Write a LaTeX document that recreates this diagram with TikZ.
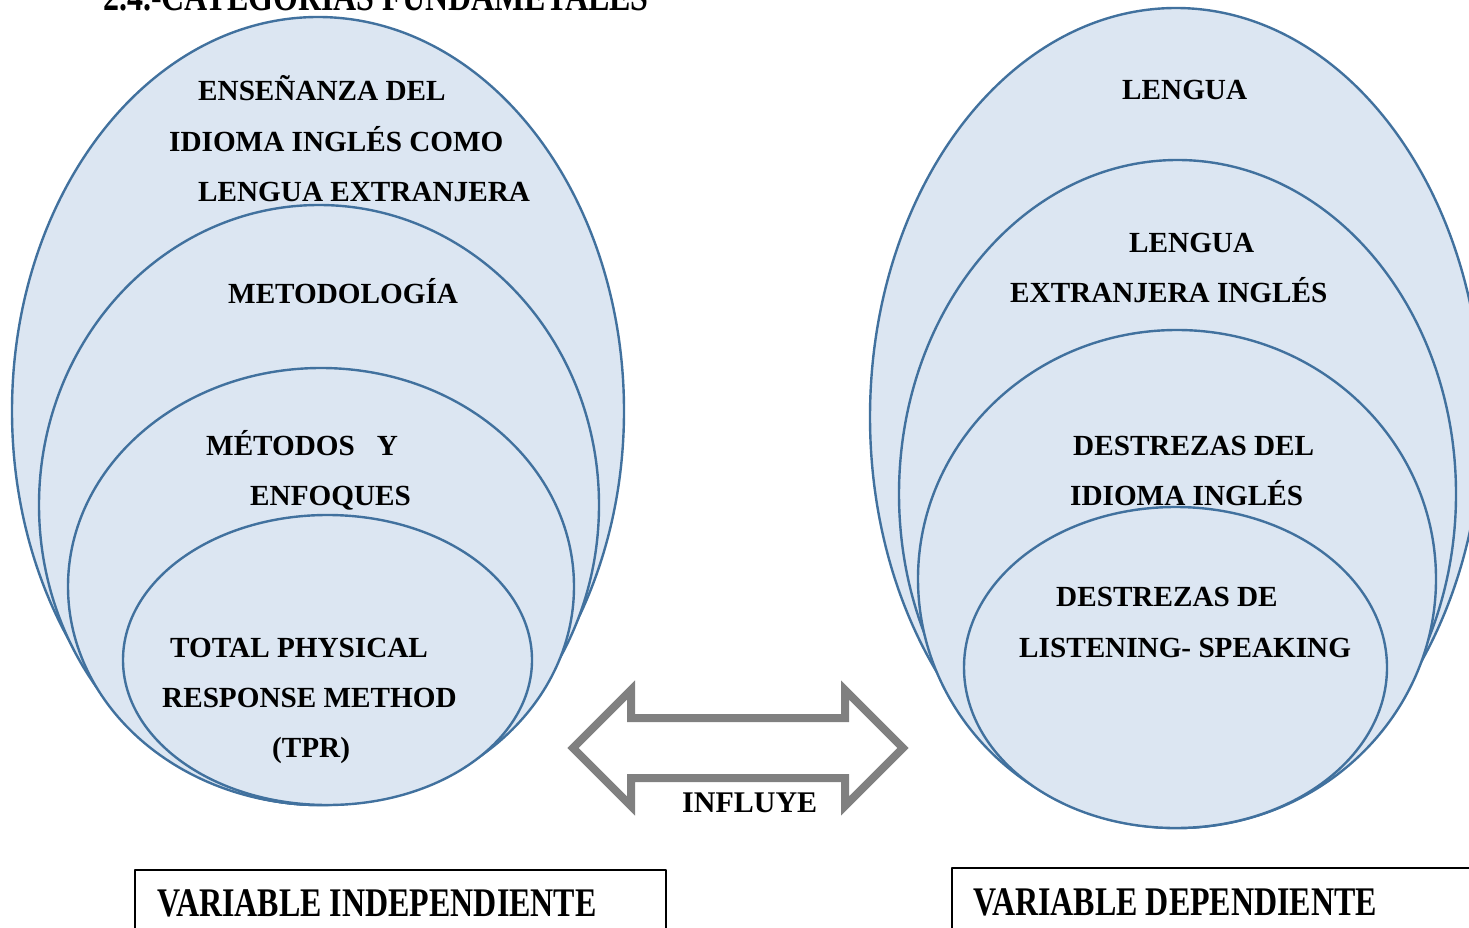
\documentclass[tikz,border=0pt]{standalone}
\usepackage{fontspec}
\setmainfont{Liberation Serif}
\usepackage{graphicx}
\definecolor{elline}{RGB}{65,113,158}
\definecolor{elfill}{RGB}{220,230,242}
\definecolor{arrgray}{RGB}{128,128,128}
\newcommand{\tall}[1]{\scalebox{1}[1.27]{#1}}
\begin{document}
\begin{tikzpicture}[x=1pt,y=-1pt,line join=round,line cap=round]
	\tikzset{cat/.style={fill=elfill,draw=elline,line width=2.4pt},
		lbl/.style={anchor=base west,inner sep=0pt,font=\fontsize{29.2}{35}\selectfont\bfseries},
		big/.style={anchor=base west,inner sep=0pt,font=\fontsize{32}{38}\selectfont\bfseries}}
	\useasboundingbox (0,0) rectangle (1469,928);
	\clip (0,0) rectangle (1469,928);
	\node[big] (titulo) at (103,11) {\tall{2.4.-CATEGORIAS FUNDAMETALES}};
	\draw[cat] (318,411) ellipse [x radius=306pt,y radius=394pt];
	\draw[cat] (319,505) ellipse [x radius=280pt,y radius=300pt];
	\draw[cat] (321,586.5) ellipse [x radius=253pt,y radius=218.5pt];
	\draw[cat] (327.5,660) ellipse [x radius=204.5pt,y radius=145pt];
	\draw[cat] (1176,417) ellipse [x radius=306pt,y radius=409pt];
	\draw[cat] (1177.5,494) ellipse [x radius=278.5pt,y radius=334pt];
	\draw[cat] (1177,579) ellipse [x radius=259pt,y radius=249pt];
	\draw[cat] (1175.5,667.5) ellipse [x radius=211.5pt,y radius=160.5pt];
	\node[lbl] (ens1) at (198,101) {ENSEÑANZA DEL};
	\node[lbl] (ens2) at (169,152) {IDIOMA INGLÉS COMO};
	\node[lbl] (ens3) at (198,202) {LENGUA EXTRANJERA};
	\node[lbl] (met) at (228,303) {METODOLOGÍA};
	\node[lbl] (mye1) at (206,455) {MÉTODOS \ \ Y};
	\node[lbl] (mye2) at (250,505) {ENFOQUES};
	\node[lbl] (tpr1) at (170,657) {TOTAL PHYSICAL};
	\node[lbl] (tpr2) at (162,707) {RESPONSE METHOD};
	\node[lbl] (tpr3) at (272,757) {(TPR)};
	\node[lbl] (len) at (1122,100) {LENGUA};
	\node[lbl] (lex1) at (1129,252) {LENGUA};
	\node[lbl] (lex2) at (1010,302) {EXTRANJERA INGLÉS};
	\node[lbl] (des1) at (1073,455) {DESTREZAS DEL};
	\node[lbl] (des2) at (1070,505) {IDIOMA INGLÉS};
	\node[lbl] (ls1) at (1056,606) {DESTREZAS DE};
	\node[lbl] (ls2) at (1019,657) {LISTENING- SPEAKING};
	\draw[arrgray,line width=8pt,line join=miter,line cap=butt] (573,748)--(631,690)--(631,718)--(845,718)--(845,690)--(903,748)--(845,806)--(845,778)--(631,778)--(631,806)--cycle;
	\node[lbl,font=\fontsize{30}{36}\selectfont\bfseries] (infl) at (682,812) {INFLUYE};
	\draw[line width=1.2pt] (135,870) rectangle (666,950);
	\draw[line width=2.6pt,line cap=butt] (135,870)--(666,870);
	\node[big] (vi) at (157,916) {\tall{VARIABLE INDEPENDIENTE}};
	\draw[line width=1.2pt] (952,868) rectangle (1500,950);
	\draw[line width=2.6pt,line cap=butt] (952,868)--(1500,868);
	\node[big] (vd) at (973,915) {\tall{VARIABLE DEPENDIENTE}};
\end{tikzpicture}
\end{document}
